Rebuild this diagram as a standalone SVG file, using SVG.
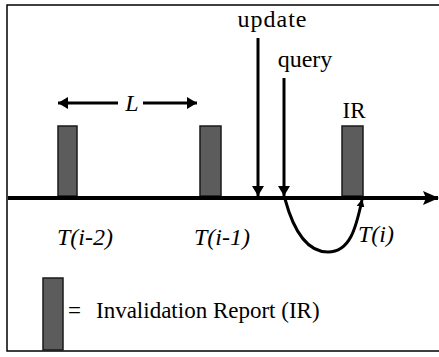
<svg xmlns="http://www.w3.org/2000/svg" width="439" height="357" viewBox="0 0 439 357">
<defs>
<style>
text{font-family:'Liberation Serif','Times New Roman','DejaVu Serif',serif;fill:#000}
.i{font-style:italic}
.bar{fill:#5c5c5c;stroke:#1a1a1a;stroke-width:1.5}
.ln{stroke:#000;fill:none}
</style>
<marker id="ah" markerWidth="10" markerHeight="12" refX="10" refY="6" orient="auto" markerUnits="userSpaceOnUse" viewBox="0 0 10 12">
<path d="M0,0 L10,6 L0,12 Z" fill="#000"/>
</marker>
<marker id="ahBig" markerWidth="16" markerHeight="14" refX="15" refY="7" orient="auto" markerUnits="userSpaceOnUse" viewBox="0 0 16 14">
<path d="M0,0 L16,7 L0,14 L3,7 Z" fill="#000"/>
</marker>
<marker id="ahS" markerWidth="8" markerHeight="8" refX="7" refY="4" orient="auto" markerUnits="userSpaceOnUse" viewBox="0 0 8 8">
<path d="M0,0 L8,4 L0,8 Z" fill="#000"/>
</marker>
</defs>
<rect width="439" height="357" fill="#fff"/>
<path id="frame" class="ln" stroke-width="1.5" d="M439,5 L7,5 L7,351 L439,351"/>
<g id="ir1"><rect class="bar" x="58" y="126" width="19" height="70"/></g>
<g id="ir2"><rect class="bar" x="200" y="126" width="21" height="70"/></g>
<g id="ir3"><rect class="bar" x="342" y="126" width="21" height="70"/><text font-family="Liberation Serif, serif" x="354" y="118" font-size="23" text-anchor="middle">IR</text></g>
<g id="connectors">
<line id="axis" class="ln" x1="8" y1="198" x2="438" y2="198" stroke-width="4" marker-end="url(#ahBig)"/>
<line class="ln" x1="258" y1="38" x2="258" y2="196" stroke-width="3" marker-end="url(#ah)"/>
<line class="ln" x1="284" y1="78" x2="284" y2="196" stroke-width="3" marker-end="url(#ah)"/>
<path class="ln" stroke-width="3" d="M285,199 C292,225 305,252 328,252 C350,252 356,228 362,200" marker-end="url(#ahS)"/>
<line class="ln" x1="118" y1="103" x2="58" y2="103" stroke-width="3" marker-end="url(#ah)"/>
<line class="ln" x1="143" y1="103" x2="197" y2="103" stroke-width="3" marker-end="url(#ah)"/>
</g>
<g id="labels" font-family="Liberation Serif, serif">
<text x="272" y="27" font-size="24" text-anchor="middle" textLength="69">update</text>
<text x="305" y="67" font-size="24" text-anchor="middle">query</text>
<text class="i" x="132" y="111" font-size="24" text-anchor="middle">L</text>
<text class="i" x="85" y="245" font-size="24" text-anchor="middle">T(i-2)</text>
<text class="i" x="222" y="245" font-size="24" text-anchor="middle">T(i-1)</text>
<text class="i" x="376" y="242" font-size="24" text-anchor="middle">T(i)</text>
</g>
<g id="legend" font-family="Liberation Serif, serif">
<rect class="bar" x="43" y="278" width="20" height="72"/>
<text x="68" y="318" font-size="23">=</text>
<text x="96" y="318" font-size="23">Invalidation Report (IR)</text>
</g>
</svg>
